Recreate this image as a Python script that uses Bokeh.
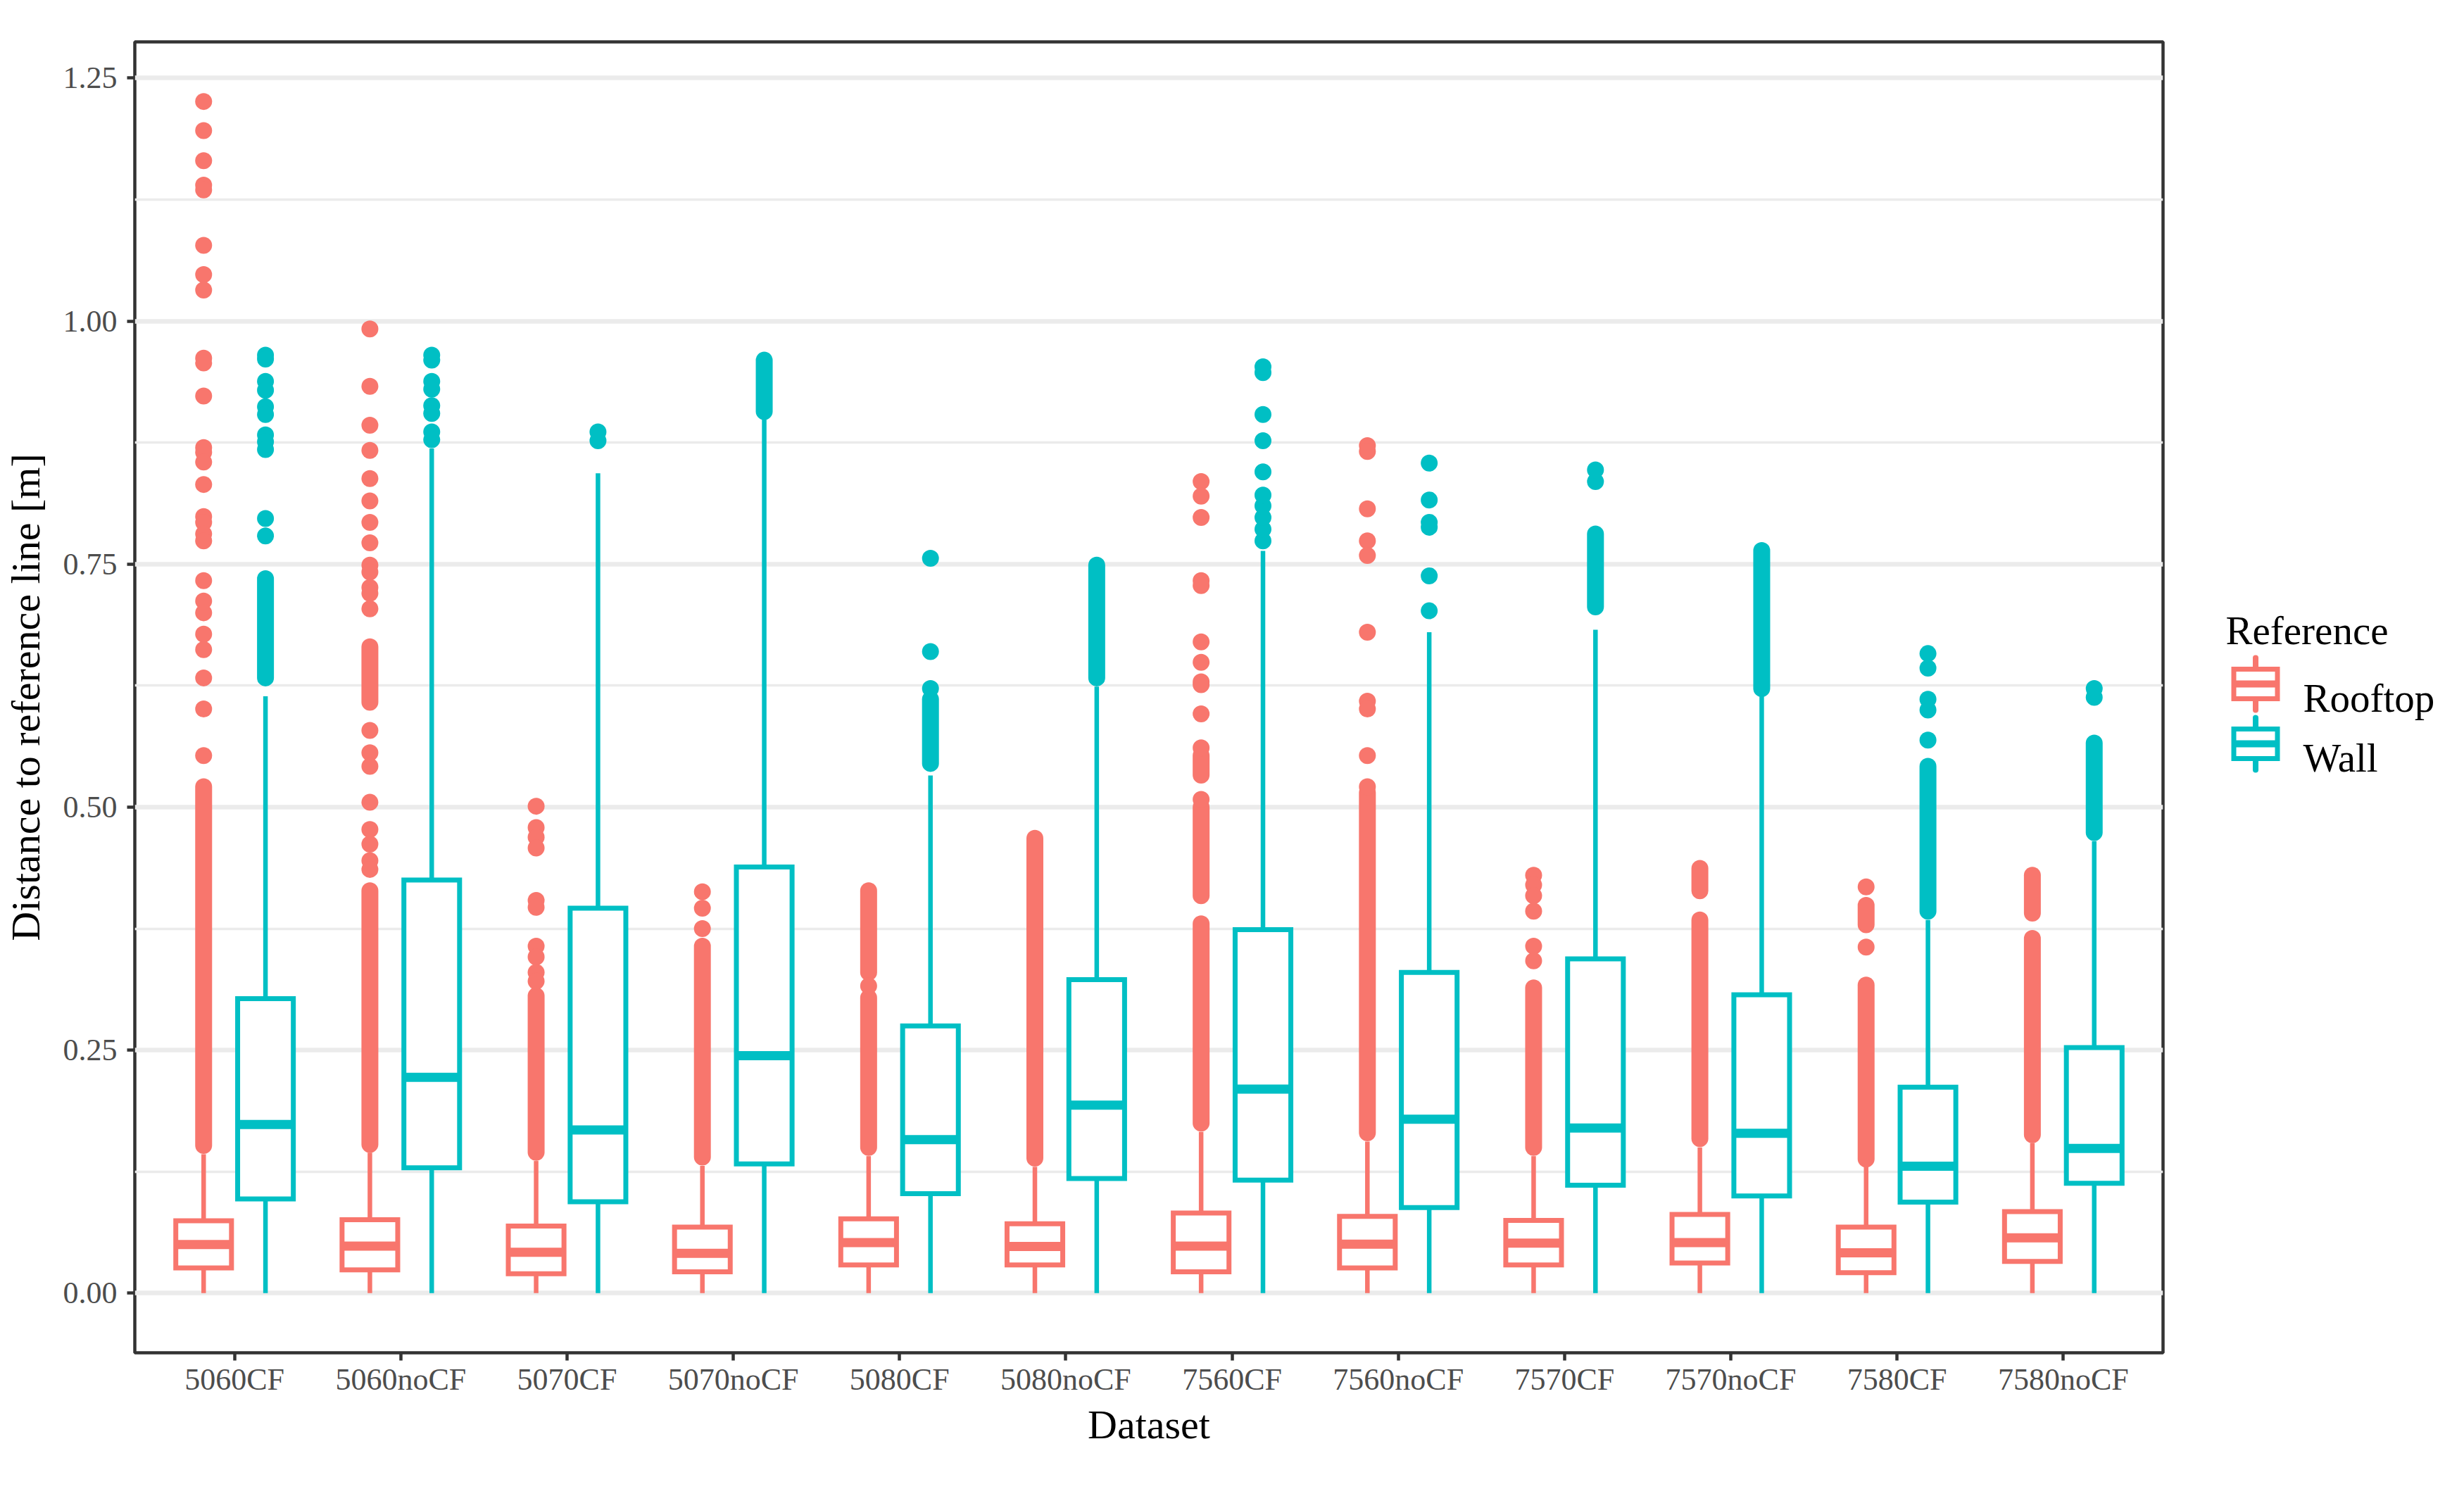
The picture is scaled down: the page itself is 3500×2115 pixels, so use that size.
import numpy as np
from bokeh.plotting import figure
from bokeh.models import Range1d, FixedTicker, NumeralTickFormatter
from bokeh.layouts import row
from bokeh.embed import file_html
from bokeh.resources import INLINE
from bokeh.core.properties import value

# ---------------- data ----------------
categories = ["5060CF", "5060noCF", "5070CF", "5070noCF", "5080CF", "5080noCF",
              "7560CF", "7560noCF", "7570CF", "7570noCF", "7580CF", "7580noCF"]

roof_lower = [0.0] * 12
roof_q1 = [0.026, 0.024, 0.020, 0.022, 0.029, 0.029, 0.022, 0.026, 0.029, 0.031, 0.021, 0.0326]
roof_med = [0.050, 0.0485, 0.042, 0.041, 0.052, 0.048, 0.0485, 0.0505, 0.0515, 0.052, 0.0415, 0.057]
roof_q3 = [0.0745, 0.0755, 0.069, 0.068, 0.0765, 0.0715, 0.0824, 0.079, 0.0748, 0.081, 0.068, 0.084]
roof_upper = [0.143, 0.1446, 0.136, 0.131, 0.141, 0.130, 0.166, 0.156, 0.141, 0.150, 0.133, 0.1546]

wall_lower = [0.0] * 12
wall_q1 = [0.097, 0.129, 0.094, 0.133, 0.1024, 0.118, 0.1164, 0.088, 0.111, 0.100, 0.0937, 0.113]
wall_med = [0.1735, 0.222, 0.168, 0.2443, 0.158, 0.1935, 0.210, 0.179, 0.170, 0.1645, 0.1306, 0.149]
wall_q3 = [0.303, 0.425, 0.396, 0.4385, 0.275, 0.3225, 0.374, 0.330, 0.344, 0.307, 0.212, 0.2527]
wall_upper = [0.614, 0.869, 0.8435, 0.900, 0.5326, 0.624, 0.7637, 0.680, 0.6825, 0.616, 0.384, 0.465]

# individual outliers
roof_outliers = {
    "5060CF": [1.226, 1.196, 1.165, 1.140, 1.135, 1.078, 1.048, 1.032, 0.962, 0.957, 0.923,
               0.870, 0.865, 0.855, 0.832, 0.799, 0.793, 0.781, 0.774, 0.733, 0.712, 0.700,
               0.678, 0.662, 0.633, 0.601, 0.553],
    "5060noCF": [0.992, 0.933, 0.893, 0.867, 0.838, 0.815, 0.793, 0.772, 0.749, 0.742, 0.726,
                 0.720, 0.704, 0.579, 0.556, 0.542, 0.505, 0.477, 0.462, 0.445, 0.436],
    "5070CF": [0.501, 0.479, 0.469, 0.458, 0.404, 0.397, 0.357, 0.346, 0.330, 0.321],
    "5070noCF": [0.413, 0.396, 0.375],
    "5080CF": [0.316],
    "5080noCF": [],
    "7560CF": [0.835, 0.820, 0.798, 0.733, 0.728, 0.670, 0.649, 0.629, 0.626, 0.596, 0.561, 0.508],
    "7560noCF": [0.872, 0.866, 0.807, 0.774, 0.759, 0.680, 0.609, 0.601, 0.553, 0.521],
    "7570CF": [0.430, 0.420, 0.409, 0.393, 0.357, 0.342],
    "7570noCF": [],
    "7580CF": [0.418, 0.356],
    "7580noCF": [],
}
# runs of outliers so dense that they overlap into a solid column (low, high)
roof_dense = {
    "5060CF": [(0.152, 0.521)],
    "5060noCF": [(0.153, 0.414), (0.608, 0.665)],
    "5070CF": [(0.145, 0.306)],
    "5070noCF": [(0.140, 0.357)],
    "5080CF": [(0.150, 0.304), (0.330, 0.414)],
    "5080noCF": [(0.139, 0.468)],
    "7560CF": [(0.175, 0.380), (0.409, 0.500), (0.533, 0.553)],
    "7560noCF": [(0.165, 0.515)],
    "7570CF": [(0.150, 0.314)],
    "7570noCF": [(0.159, 0.384), (0.414, 0.437)],
    "7580CF": [(0.138, 0.317), (0.379, 0.399)],
    "7580noCF": [(0.163, 0.365), (0.391, 0.430)],
}
wall_outliers = {
    "5060CF": [0.965, 0.961, 0.938, 0.929, 0.912, 0.904, 0.883, 0.876, 0.868, 0.797, 0.779],
    "5060noCF": [0.965, 0.960, 0.938, 0.930, 0.913, 0.905, 0.886, 0.878],
    "5070CF": [0.886, 0.877],
    "5070noCF": [],
    "5080CF": [0.622, 0.660, 0.756],
    "5080noCF": [],
    "7560CF": [0.774, 0.786, 0.798, 0.810, 0.821, 0.845, 0.877, 0.904, 0.947, 0.953],
    "7560noCF": [0.702, 0.738, 0.788, 0.793, 0.816, 0.854],
    "7570CF": [0.835, 0.847],
    "7570noCF": [],
    "7580CF": [0.569, 0.600, 0.611, 0.643, 0.658],
    "7580noCF": [0.613, 0.622],
}
wall_dense = {
    "5060CF": [(0.633, 0.735)],
    "5060noCF": [],
    "5070CF": [],
    "5070noCF": [(0.907, 0.960)],
    "5080CF": [(0.545, 0.611)],
    "5080noCF": [(0.633, 0.749)],
    "7560CF": [],
    "7560noCF": [],
    "7570CF": [(0.706, 0.781)],
    "7570noCF": [(0.622, 0.764)],
    "7580CF": [(0.393, 0.542)],
    "7580noCF": [(0.474, 0.566)],
}

y_ticks = [0.0, 0.25, 0.5, 0.75, 1.0, 1.25]
y_minor = [0.125, 0.375, 0.625, 0.875, 1.125]
series_names = ["Rooftop", "Wall"]

# ---------------- style ----------------
ROOF = "#F8766D"
WALL = "#00BFC4"
FONT = "Liberation Serif"
DODGE = 0.186
BOXW = 0.335
DOT = 24

H = 2090
B_TOP, B_BOT = 59, 169
FRAME_TOP = B_TOP
FRAME_BOT = H - B_BOT

pos = np.arange(1, len(categories) + 1)
all_vals = [v for d in (roof_outliers, wall_outliers) for l in d.values() for v in l]
ymax = max(all_vals + wall_upper)
ymin = 0.0
yr = ymax - ymin

p = figure(width=3092, height=H,
           x_range=Range1d(0.4, len(categories) + 0.6),
           y_range=Range1d(ymin - 0.05 * yr, ymax + 0.05 * yr),
           output_backend="svg", toolbar_location=None,
           min_border_left=184, min_border_right=20, min_border_top=B_TOP, min_border_bottom=B_BOT)
p.background_fill_color = "white"
p.border_fill_color = "white"
p.outline_line_color = "#333333"
p.outline_line_width = 4.5

yt = FixedTicker(ticks=y_ticks, minor_ticks=y_minor)
p.yaxis.ticker = yt
p.yaxis.formatter = NumeralTickFormatter(format="0.00")
p.ygrid.ticker = yt
p.ygrid.grid_line_color = "#EBEBEB"
p.ygrid.grid_line_width = 6.5
p.ygrid.minor_grid_line_color = "#EBEBEB"
p.ygrid.minor_grid_line_width = 3.3
p.xgrid.visible = False

p.xaxis.ticker = FixedTicker(ticks=[int(v) for v in pos])
p.xaxis.major_label_overrides = {int(v): c for v, c in zip(pos, categories)}

for ax in (p.xaxis, p.yaxis):
    ax.axis_line_color = None
    ax.major_tick_line_color = "#333333"
    ax.major_tick_line_width = 4.5
    ax.major_tick_out = 11
    ax.major_tick_in = 0
    ax.minor_tick_line_color = None
    ax.major_label_text_font = FONT
    ax.major_label_text_font_size = "44px"
    ax.major_label_text_color = "#4D4D4D"
    ax.axis_label_text_font = FONT
    ax.axis_label_text_font_size = "58px"
    ax.axis_label_text_font_style = "normal"
    ax.axis_label_text_color = "black"

p.xaxis.axis_label = "Dataset"
p.yaxis.axis_label = "Distance to reference line [m]"
p.xaxis.major_label_standoff = 2
p.xaxis.axis_label_standoff = 4
p.yaxis.major_label_standoff = 14
p.yaxis.axis_label_standoff = 18


def draw_series(xc, lower, q1, med, q3, upper, outliers, dense, color):
    # outliers (dense runs and single points)
    bx, blo, bhi = [], [], []
    for x, c in zip(xc, categories):
        for lo, hi in dense[c]:
            bx.append(x); blo.append(lo); bhi.append(hi)
    if bx:
        p.segment(x0=bx, y0=blo, x1=bx, y1=bhi, line_color=color, line_width=DOT,
                  line_cap="round")
    ox, oy = [], []
    for x, c in zip(xc, categories):
        for v in outliers[c]:
            ox.append(x); oy.append(v)
    p.scatter(x=ox, y=oy, size=DOT, marker="circle", fill_color=color, line_color=None)
    # whiskers
    p.segment(x0=xc, y0=q3, x1=xc, y1=upper, line_color=color, line_width=6.5)
    p.segment(x0=xc, y0=lower, x1=xc, y1=q1, line_color=color, line_width=6.5)
    # box
    p.quad(left=xc - BOXW / 2, right=xc + BOXW / 2, bottom=q1, top=q3,
           fill_color="white", line_color=color, line_width=7, line_join="miter")
    # median
    p.segment(x0=xc - BOXW / 2, y0=med, x1=xc + BOXW / 2, y1=med,
              line_color=color, line_width=13)


draw_series(pos - DODGE, roof_lower, roof_q1, roof_med, roof_q3, roof_upper,
            roof_outliers, roof_dense, ROOF)
draw_series(pos + DODGE, wall_lower, wall_q1, wall_med, wall_q3, wall_upper,
            wall_outliers, wall_dense, WALL)

# ---------------- legend panel (coordinates in pixels of the legend canvas) ----------------
LW = 392
lf = figure(width=LW, height=H, x_range=Range1d(0, LW), y_range=Range1d(FRAME_BOT, FRAME_TOP),
            output_backend="svg", toolbar_location=None,
            x_axis_location=None, y_axis_location=None,
            min_border_left=0, min_border_right=0, min_border_top=B_TOP, min_border_bottom=B_BOT)
lf.outline_line_color = None
lf.grid.visible = False
lf.background_fill_color = "white"
lf.border_fill_color = "white"

lf.text(x=[69], y=[895], text=["Reference"], text_font=value(FONT),
        text_font_size="57px", text_color="black", text_baseline="alphabetic")

key_cy = [971, 1056]
key_cx = 111.5
for cy, color, name in zip(key_cy, [ROOF, WALL], series_names):
    lf.segment(x0=[key_cx, key_cx], y0=[cy - 37, cy + 21], x1=[key_cx, key_cx],
               y1=[cy - 21, cy + 37], line_color=color, line_width=8, line_cap="round")
    lf.quad(left=[key_cx - 31], right=[key_cx + 31], top=[cy - 21], bottom=[cy + 21],
            fill_color="white", line_color=color, line_width=7, line_join="miter")
    lf.segment(x0=[key_cx - 31], y0=[cy], x1=[key_cx + 31], y1=[cy],
               line_color=color, line_width=10)
    lf.text(x=[179], y=[cy + 20], text=[name], text_font=value(FONT),
            text_font_size="57px", text_color="black", text_baseline="alphabetic")

layout = row(p, lf)
open("out.html", "w").write(file_html(layout, INLINE))
